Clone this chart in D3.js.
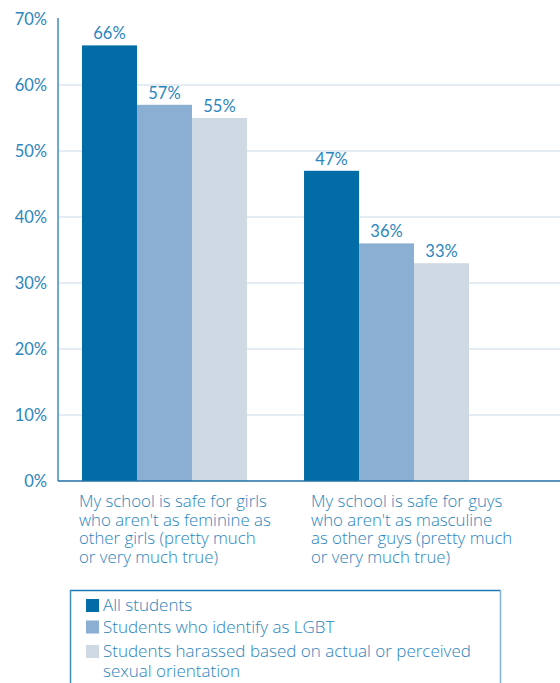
<!DOCTYPE html>
<html>
<head>
<meta charset="utf-8">
<script src="https://cdn.jsdelivr.net/npm/d3@7"></script>
<style>
  html, body { margin: 0; padding: 0; background: #fff; }
  svg { display: block; }
</style>
</head>
<body>
<svg id="chart" width="560" height="683"></svg>
<script>
// Survey results: share of students saying their school is safe
const categories = [
  ["My school is safe for girls", "who aren't as feminine as", "other girls (pretty much", "or very much true)"],
  ["My school is safe for guys", "who aren't as masculine", "as other guys (pretty much", "or very much true)"]
];
const categoryKeys = ["girls", "guys"];
const seriesNames = [
  ["All students"],
  ["Students who identify as LGBT"],
  ["Students harassed based on actual or perceived", "sexual orientation"]
];
const seriesKeys = ["all", "lgbt", "harassed"];
const allStudents = [66, 47];
const lgbtStudents = [57, 36];
const harassedStudents = [55, 33];
const yTicks = [0, 10, 20, 30, 40, 50, 60, 70];

const colors = ["#016ca5", "#8baed3", "#cfd9e3"];
const textColor = "#2b85be";

const values = [allStudents, lgbtStudents, harassedStudents];
const rows = categoryKeys.map((k, i) => ({
  key: k,
  lines: categories[i],
  vals: seriesKeys.map((s, j) => ({ series: s, idx: j, value: values[j][i] }))
}));

const svg = d3.select("#chart");
const axisX = 58, right = 560, y0 = 481, yTop = 19;

const y = d3.scaleLinear().domain([0, 70]).range([y0, yTop]);
const x0 = d3.scaleBand().domain(categoryKeys).range([axisX, 493])
  .paddingInner(0.257).paddingOuter(0.108);
const x1 = d3.scaleBand().domain(seriesKeys).range([0, x0.bandwidth()]);
// horizontal nudge of each category caption relative to its bar group
const captionShift = { girls: -3, guys: 7 };

// Gridlines
svg.append("g").selectAll("line")
  .data(yTicks.filter(t => t > 0 && t < 70))
  .join("line")
  .attr("x1", axisX).attr("x2", right)
  .attr("y1", d => y(d)).attr("y2", d => y(d))
  .attr("stroke", "#dde6ef").attr("stroke-width", 1.5);

// Tick labels
svg.append("g").selectAll("text")
  .data(yTicks)
  .join("text")
  .attr("x", 47).attr("y", d => y(d) + 6)
  .attr("text-anchor", "end")
  .attr("font-family", "Lato, sans-serif")
  .attr("font-size", 16.5)
  .attr("fill", textColor)
  .text(d => d + "%");

// Bars
const groups = svg.append("g").selectAll("g")
  .data(rows)
  .join("g")
  .attr("transform", d => `translate(${x0(d.key)},0)`);

groups.selectAll("rect")
  .data(d => d.vals)
  .join("rect")
  .attr("x", d => x1(d.series))
  .attr("width", x1.bandwidth())
  .attr("y", d => y(d.value))
  .attr("height", d => y0 - y(d.value))
  .attr("fill", d => colors[d.idx]);

groups.selectAll("text.val")
  .data(d => d.vals)
  .join("text")
  .attr("class", "val")
  .attr("x", d => x1(d.series) + x1.bandwidth() / 2)
  .attr("y", d => y(d.value) - 6)
  .attr("text-anchor", "middle")
  .attr("font-family", "Lato, sans-serif")
  .attr("font-size", 16.5)
  .attr("fill", textColor)
  .text(d => d.value + "%");

// Axis lines
svg.append("line")
  .attr("x1", axisX).attr("x2", axisX).attr("y1", 18).attr("y2", y0)
  .attr("stroke", "#3a8dc2").attr("stroke-width", 1.5);
svg.append("line")
  .attr("x1", axisX).attr("x2", right).attr("y1", y0).attr("y2", y0)
  .attr("stroke", "#1f6fa6").attr("stroke-width", 1.5);

// Category labels
groups.append("text")
  .attr("font-family", "'Open Sans', sans-serif")
  .attr("font-weight", 300)
  .attr("font-size", 16.8)
  .attr("fill", textColor)
  .selectAll("tspan")
  .data(d => d.lines.map(t => ({ t, shift: captionShift[d.key] })))
  .join("tspan")
  .attr("x", d => d.shift)
  .attr("y", (d, i) => 507 + i * 18.5)
  .text(d => d.t);

// Legend
const legend = svg.append("g");
legend.append("line").attr("x1", 70).attr("x2", 501).attr("y1", 590.5).attr("y2", 590.5)
  .attr("stroke", "#1f78b4").attr("stroke-width", 1.5);
legend.append("line").attr("x1", 70.5).attr("x2", 70.5).attr("y1", 590).attr("y2", 690)
  .attr("stroke", "#3a8dc2").attr("stroke-width", 1.5);
legend.append("line").attr("x1", 500.5).attr("x2", 500.5).attr("y1", 590).attr("y2", 690)
  .attr("stroke", "#80b2d6").attr("stroke-width", 1.5);

const itemY = [599, 620.5, 645];
const items = legend.selectAll("g.item")
  .data(seriesNames)
  .join("g")
  .attr("class", "item")
  .attr("transform", (d, i) => `translate(86,${itemY[i]})`);
items.append("rect")
  .attr("width", 13).attr("height", 13)
  .attr("fill", (d, i) => colors[i]);
items.append("text")
  .attr("font-family", "'Open Sans', sans-serif")
  .attr("font-weight", 300)
  .attr("font-size", 17)
  .attr("fill", textColor)
  .selectAll("tspan")
  .data(d => d)
  .join("tspan")
  .attr("x", 17)
  .attr("y", (d, i) => 12 + i * 20)
  .text(d => d);
</script>
</body>
</html>
